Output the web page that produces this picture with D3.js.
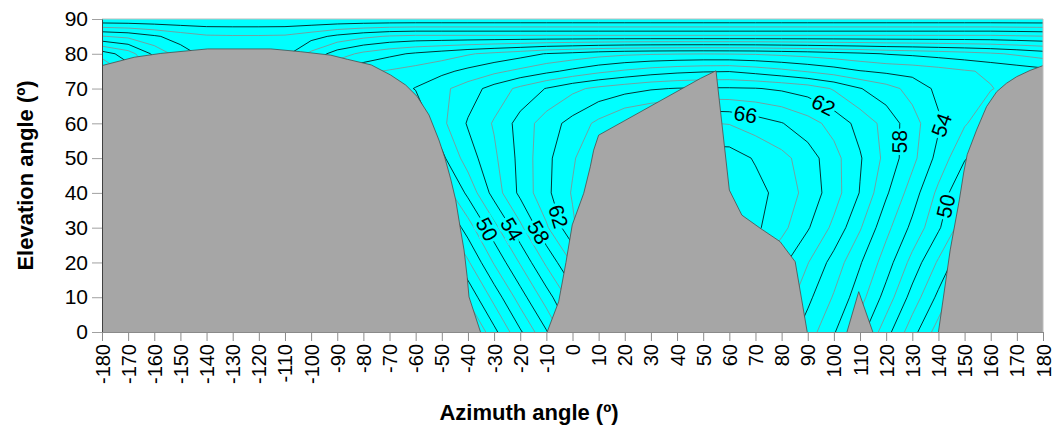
<!DOCTYPE html>
<html>
<head>
<meta charset="utf-8">
<script src="https://cdn.jsdelivr.net/npm/d3@7"></script>
<style>
  body { margin: 0; background: #fff; }
  text { font-family: "Liberation Sans", Arial, sans-serif; }
</style>
</head>
<body>
<div id="chart"></div>
<script>
/* grid columns (azimuth, deg) and rows (elevation, deg) of the sampled field */
var azimuths = [-180, -170, -160, -150, -140, -130, -120, -110, -100, -90, -80, -70, -60, -50, -40, -30, -20, -10,
  0, 10, 20, 30, 40, 50, 60, 70, 80, 90, 100, 110, 120, 130, 140, 150, 160, 170, 180];
var elevations = [0, 10, 20, 30, 40, 50, 60, 70, 75, 80, 85, 90];

/* field values, one row per elevation */
var el0 = [28.5, 27.5, 27, 26.5, 26, 25.5, 25.5, 25.5, 25.5, 26, 26.5, 27, 28.2, 32.5, 37, 41.4, 45.7, 49.8,
  54.2, 57.5, 60.5, 62.5, 64.2, 65, 65, 65, 63.5, 61, 58.2, 54.8, 50.8, 46.8, 43, 39, 35.5, 32, 28.5];
var el10 = [31, 30.2, 29, 28.5, 28.2, 27.5, 27.5, 27.5, 28.2, 28.5, 29, 30.2, 31.5, 36.2, 40.4, 44.7, 49, 53,
  57, 60.5, 63.5, 65.5, 67, 67.5, 67.5, 67, 65.5, 62.5, 59.8, 56.8, 53.2, 49.2, 45.5, 41.5, 38.2, 34.5, 31];
var el20 = [33.5, 32.5, 31.5, 30.5, 30.2, 29.5, 29.5, 30.2, 30.5, 31, 32.2, 33.5, 35, 39.5, 43.7, 48.2, 52.2, 56.4,
  60.2, 63.5, 66.5, 68.5, 70.2, 70.5, 69.8, 68.5, 66.5, 64.1, 61.2, 58.2, 55, 51.3, 47.7, 44.2, 40.5, 37, 33.5];
var el30 = [36.2, 35, 34.2, 33, 32.2, 31.5, 31.5, 32.2, 33, 34.2, 35, 36.5, 38.5, 43, 47, 51.3, 55.5, 59.7,
  63.6, 67, 69.5, 71.5, 72.5, 73, 72.5, 70.4, 68.6, 66.2, 63.5, 60.2, 56.6, 53.5, 50.3, 46.7, 43, 39.5, 36.2];
var el40 = [39, 38.2, 36.5, 35, 34.2, 33.5, 33.5, 34.2, 35, 36.5, 38.2, 40.2, 42.2, 46.5, 50.5, 54.8, 58.5, 61.5,
  64.2, 66.5, 68.5, 70.5, 71.8, 72.2, 71.5, 70.7, 69.3, 67.3, 64.9, 61.9, 58.3, 55, 51.5, 47.8, 44.5, 41.5, 39];
var el50 = [44.2, 42.5, 40.5, 38.5, 37, 36.5, 36.5, 37, 38.5, 40.2, 41.5, 43.5, 45, 49.5, 53, 55.6, 58.6, 61.5,
  63.7, 66.2, 68.2, 69.5, 70.5, 71, 71, 69.8, 68.6, 67, 64.7, 62.2, 59.4, 56.6, 53.3, 50.2, 48.2, 46.2, 44.2];
var el60 = [47.5, 45.5, 43, 40.5, 39, 38.5, 38.5, 39.5, 41.5, 43.5, 45, 46.5, 48.2, 51.5, 54.2, 56.2, 58.8, 61,
  62.7, 64.5, 66.2, 67, 67.7, 68.1, 67.9, 67, 66.1, 64.8, 63.3, 61.3, 59.3, 56.8, 54.3, 52.2, 50.5, 49, 47.5];
var el70 = [50.5, 48.2, 45, 42.2, 40.5, 40.2, 40.2, 41, 43.5, 46.5, 48.2, 49, 50.1, 51.5, 53, 54.8, 56.5, 58.1,
  59.5, 60.5, 61.2, 61.8, 62.1, 62.2, 62.2, 62.1, 61.7, 61.1, 59.8, 58.1, 56.8, 55.3, 53.5, 52.8, 52.1, 51.3, 50.5];
var el75 = [50.7, 47, 43.5, 40.5, 39, 38.5, 38.5, 39.5, 42.5, 46, 47.5, 48.2, 48.8, 49.5, 50.5, 51.5, 52.5, 53.5,
  54.5, 55.5, 56.3, 57, 57.5, 57.8, 57.9, 57.3, 56.6, 55.8, 55, 54.1, 53.6, 53.3, 52.8, 52.2, 51.7, 51.2, 50.7];
var el80 = [47, 45, 41.5, 39, 37.3, 37, 37, 37.4, 40.5, 43, 44.5, 45.5, 46.3, 47, 47.8, 48.5, 49.2, 50.1,
  50.6, 51.2, 51.6, 51.8, 51.9, 51.95, 51.9, 51.8, 51.5, 51.2, 50.8, 50.4, 49.9, 49.6, 49.2, 48.8, 48.3, 47.7, 47];
var el85 = [40.1, 39.5, 38.3, 37.1, 36.3, 36.2, 36.2, 36.3, 37.2, 38.5, 39.5, 40.2, 40.5, 40.5, 40.5, 40.5, 40.5, 40.5,
  40.5, 40.5, 40.5, 40.5, 40.5, 40.5, 40.5, 40.5, 40.5, 40.5, 40.5, 40.5, 40.5, 40.5, 40.5, 40.5, 40.5, 40.3, 40.1];
var el90 = [32.2, 32.2, 32.2, 32.2, 32.2, 32.2, 32.2, 32.2, 32.2, 32.2, 32.2, 32.2, 32.2, 32.2, 32.2, 32.2, 32.2, 32.2,
  32.2, 32.2, 32.2, 32.2, 32.2, 32.2, 32.2, 32.2, 32.2, 32.2, 32.2, 32.2, 32.2, 32.2, 32.2, 32.2, 32.2, 32.2, 32.2];

/* contour levels and the labelled ones: [level, azimuth, elevation] */
var levels = d3.range(30, 74, 2);
var contourLabels = [
  [50, -33.3, 29.3], [54, -23.8, 29.3], [58, -13.4, 28.5], [62, -3.8, 33.6],
  [66, 66.4, 63.3], [62, 96, 65.3], [58, 126, 54.7], [54, 141.2, 59.5], [50, 141.2, 36.5]
];

/* horizon (obstruction) profiles: [azimuth, elevation] */
var horizonWest = [[-180, 76.6], [-167.7, 79], [-157.5, 80.1], [-139.6, 81.4], [-115.4, 81.4], [-104, 80.6],
  [-92.5, 79.6], [-86.1, 78.4], [-77, 76.8], [-69.6, 73.9], [-63.8, 71], [-59.4, 67.7], [-54.9, 62.4],
  [-51.1, 55.2], [-48.8, 50], [-46.6, 44], [-44.7, 38], [-42.8, 29.3], [-41.5, 23.6], [-40.3, 15.9],
  [-39.6, 10.1], [-35.2, 0]];
var horizonMiddle = [[-9.7, 0], [-5.3, 8.7], [-2.5, 20], [-0.1, 30.8], [4.3, 39.9], [6.8, 47.5], [8.1, 52.3],
  [10, 56.6], [48.9, 72.9], [54.9, 75.1], [60, 40.8], [64.8, 33.6], [71.7, 29.9], [79.4, 26], [85.2, 20.2],
  [89.8, 0]];
var horizonSpike = [[105, 0], [109.5, 11.6], [114.9, 0]];
var horizonEast = [[140, 0], [144.5, 23.6], [148, 38], [149.7, 46], [151, 51], [154.6, 58.1], [158.4, 64.8],
  [162.3, 69.1], [166, 71.5], [169.9, 73.4], [175, 75.2], [180, 76.6]];

var xTicks = d3.range(-180, 181, 10);
var yTicks = d3.range(0, 91, 10);

/* layout */
var width = 1053;
var height = 429;
var margin = {top: 19, right: 10, bottom: 97, left: 102};
var x = d3.scaleLinear().domain([-180, 180]).range([margin.left, width - margin.right]);
var y = d3.scaleLinear().domain([0, 90]).range([height - margin.bottom, margin.top]);

var svg = d3.select("#chart").append("svg")
    .attr("width", width)
    .attr("height", height);

svg.append("clipPath").attr("id", "plot-clip")
  .append("rect")
    .attr("x", x(-180))
    .attr("y", y(90))
    .attr("width", x(180) - x(-180))
    .attr("height", y(0) - y(90));

/* cyan background of the sky */
svg.append("rect")
    .attr("x", x(-180))
    .attr("y", y(90))
    .attr("width", x(180) - x(-180))
    .attr("height", y(0) - y(90))
    .attr("fill", "#00ffff");

/* contours from the grid: grid index i sits at i + 0.5 in contour space */
var nx = azimuths.length;
var ny = elevations.length;
var values = [].concat(el0, el10, el20, el30, el40, el50, el60, el70, el75, el80, el85, el90);
var contours = d3.contours().size([nx, ny]).thresholds(levels)(values);
var gx = d3.scaleLinear().domain([0.5, nx - 0.5]).range([azimuths[0], azimuths[nx - 1]]);
var gy = d3.scaleLinear().domain(elevations.map(function (e, j) { return j + 0.5; })).range(elevations);
var toPixel = function (p) {
  return [x(gx(p[0])), y(gy(p[1]))];
};
var project = d3.geoTransform({
  point: function (px, py) {
    var q = toPixel([px, py]);
    this.stream.point(q[0], q[1]);
  }
});
var path = d3.geoPath(project);

function isMajor(v) {
  return v % 4 === 2;
}

var lineGroup = svg.append("g").attr("clip-path", "url(#plot-clip)");
lineGroup.selectAll("path")
  .data(contours)
  .enter()
  .append("path")
    .attr("d", path)
    .attr("fill", "none")
    .attr("stroke", function (d) { return isMajor(d.value) ? "#000" : "#8c8c8c"; })
    .attr("stroke-width", 0.8);

/* obstruction masks */
var maskGroup = svg.append("g").attr("clip-path", "url(#plot-clip)");
var profileLine = d3.line()
    .x(function (d) { return x(d[0]); })
    .y(function (d) { return y(d[1]); });
[horizonWest.concat([[-180, 0]]), horizonMiddle, horizonSpike, horizonEast.concat([[180, 0]])]
  .forEach(function (poly) {
    maskGroup.append("path")
        .attr("d", profileLine(poly) + "Z")
        .attr("fill", "#a6a6a6")
        .attr("stroke", "none");
  });
[horizonWest, horizonMiddle, horizonSpike, horizonEast].forEach(function (prof) {
  maskGroup.append("path")
      .attr("d", profileLine(prof))
      .attr("fill", "none")
      .attr("stroke", "#4d4d4d")
      .attr("stroke-width", 0.8);
});

/* contour labels: snap to the nearest piece of the level's line and follow its direction */
function placeLabel(lab) {
  var c = contours.filter(function (d) { return d.value === lab[0]; })[0];
  var tx = x(lab[1]);
  var ty = y(lab[2]);
  var best = {dist: Infinity, x: tx, y: ty, angle: 0};
  var x0 = x(-180), x1 = x(180), y0 = y(90), y1 = y(0);
  var inside = function (p) {
    return p[0] >= x0 && p[0] <= x1 && p[1] >= y0 && p[1] <= y1;
  };
  c.coordinates.forEach(function (polygon) {
    polygon.forEach(function (ring) {
      for (var i = 1; i < ring.length; i += 1) {
        var a = toPixel(ring[i - 1]);
        var b = toPixel(ring[i]);
        if (!inside(a) || !inside(b)) {
          continue;
        }
        var dx = b[0] - a[0];
        var dy = b[1] - a[1];
        var len2 = dx * dx + dy * dy;
        if (len2 === 0) {
          continue;
        }
        var t = Math.max(0, Math.min(1, ((tx - a[0]) * dx + (ty - a[1]) * dy) / len2));
        var px = a[0] + t * dx;
        var py = a[1] + t * dy;
        var dist = Math.hypot(px - tx, py - ty);
        if (dist < best.dist) {
          var ang = Math.atan2(dy, dx) * 180 / Math.PI;
          if (ang >= 90) {
            ang -= 180;
          }
          if (ang < -90) {
            ang += 180;
          }
          best = {dist: dist, x: px, y: py, angle: ang};
        }
      }
    });
  });
  return best;
}

var labelGroup = svg.append("g");
contourLabels.forEach(function (lab) {
  var p = placeLabel(lab);
  labelGroup.append("text")
      .attr("transform", "translate(" + p.x + "," + p.y + ") rotate(" + p.angle + ")")
      .attr("text-anchor", "middle")
      .attr("dy", "0.35em")
      .attr("font-size", 21)
      .attr("fill", "#000")
      .attr("stroke", "#00ffff")
      .attr("stroke-width", 6)
      .attr("paint-order", "stroke")
      .text(lab[0]);
});

/* frame: light top and right edges */
svg.append("path")
    .attr("d", "M" + x(-180) + "," + y(90) + "H" + x(180) + "V" + y(0))
    .attr("fill", "none")
    .attr("stroke", "#bdbdbd")
    .attr("stroke-width", 1);

/* axes, plain hyphen for negative ticks */
var plain = function (d) { return String(d); };

var yAxis = svg.append("g")
    .attr("transform", "translate(" + x(-180) + ",0)")
    .call(d3.axisLeft(y).tickValues(yTicks).tickFormat(plain).tickSize(10).tickSizeOuter(0).tickPadding(4));
yAxis.select(".domain").attr("stroke", "#404040");
yAxis.selectAll(".tick line").attr("stroke", "#a0a0a0");
yAxis.selectAll(".tick text")
    .attr("font-size", 21)
    .attr("font-family", "Liberation Sans, Arial, sans-serif")
    .attr("fill", "#000");

var xAxis = svg.append("g")
    .attr("transform", "translate(0," + y(0) + ")")
    .call(d3.axisBottom(x).tickValues(xTicks).tickFormat(plain).tickSize(9).tickSizeOuter(0));
xAxis.select(".domain").attr("stroke", "#8a8a8a");
xAxis.selectAll(".tick line").attr("stroke", "#8a8a8a");
xAxis.selectAll(".tick text")
    .attr("font-size", 20)
    .attr("font-family", "Liberation Sans, Arial, sans-serif")
    .attr("fill", "#000")
    .attr("transform", "rotate(-90)")
    .attr("x", -12)
    .attr("y", 0)
    .attr("dy", "0.35em")
    .attr("text-anchor", "end");

/* axis titles */
svg.append("text")
    .attr("transform", "translate(25," + ((y(0) + y(90)) / 2) + ") rotate(-90)")
    .attr("text-anchor", "middle")
    .attr("dy", "0.35em")
    .attr("font-size", 22)
    .attr("font-weight", "bold")
    .text("Elevation angle (º)");
svg.append("text")
    .attr("x", 529)
    .attr("y", 412)
    .attr("text-anchor", "middle")
    .attr("dy", "0.35em")
    .attr("font-size", 22)
    .attr("font-weight", "bold")
    .text("Azimuth angle (º)");
</script>
</body>
</html>
